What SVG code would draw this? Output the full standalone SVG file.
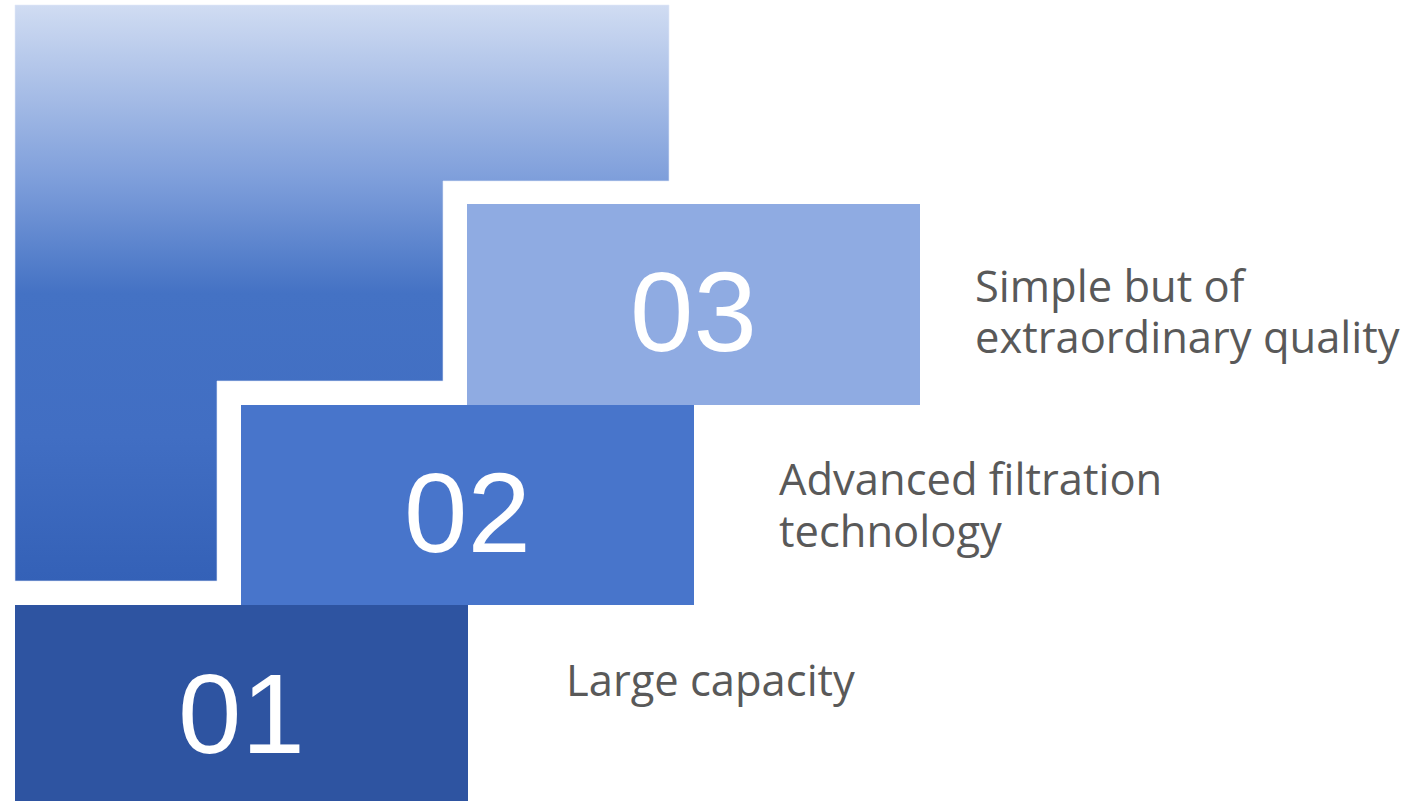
<svg xmlns="http://www.w3.org/2000/svg" width="1424" height="801" viewBox="0 0 1424 801">
  <defs>
    <linearGradient id="bgGrad" x1="0" y1="5" x2="0" y2="581" gradientUnits="userSpaceOnUse">
      <stop offset="0" stop-color="#D0DCF2"/>
      <stop offset="0.3" stop-color="#7F9FDB"/>
      <stop offset="0.5" stop-color="#4472C4"/>
      <stop offset="0.75" stop-color="#416EC3"/>
      <stop offset="1" stop-color="#3461B7"/>
    </linearGradient>
  </defs>
  <style>
    .num { font-family: "Liberation Sans", Arial, sans-serif; font-size: 114px; fill: #FFFFFF; text-anchor: middle; }
    .label { font-family: "Open Sans", "Noto Sans", sans-serif; font-size: 43.5px; fill: #595959; }
  </style>
  <rect width="1424" height="801" fill="#FFFFFF"/>
  <g id="backdrop">
    <path d="M15,5 H669 V181 H443 V381 H217 V581 H15 Z" fill="url(#bgGrad)" stroke="#E3EAF8" stroke-opacity="0.6" stroke-width="1"/>
  </g>
  <g id="step-01">
    <rect x="15" y="605" width="453" height="196" fill="#2E54A1"/>
    <text class="num" x="241.5" y="753">01</text>
    <text class="label" x="566" y="696">Large capacity</text>
  </g>
  <g id="step-02">
    <rect x="241" y="405" width="453" height="200" fill="#4875CB"/>
    <text class="num" x="467.5" y="552">02</text>
    <text class="label" x="779" y="495"><tspan x="779" y="495">Advanced filtration</tspan><tspan x="779" y="547">technology</tspan></text>
  </g>
  <g id="step-03">
    <rect x="467" y="204" width="453" height="201" fill="#8FABE2"/>
    <text class="num" x="693.5" y="351">03</text>
    <text class="label" x="975" y="302"><tspan x="975" y="302">Simple but of</tspan><tspan x="975" y="353">extraordinary quality</tspan></text>
  </g>
  <g id="connectors"/>
</svg>
